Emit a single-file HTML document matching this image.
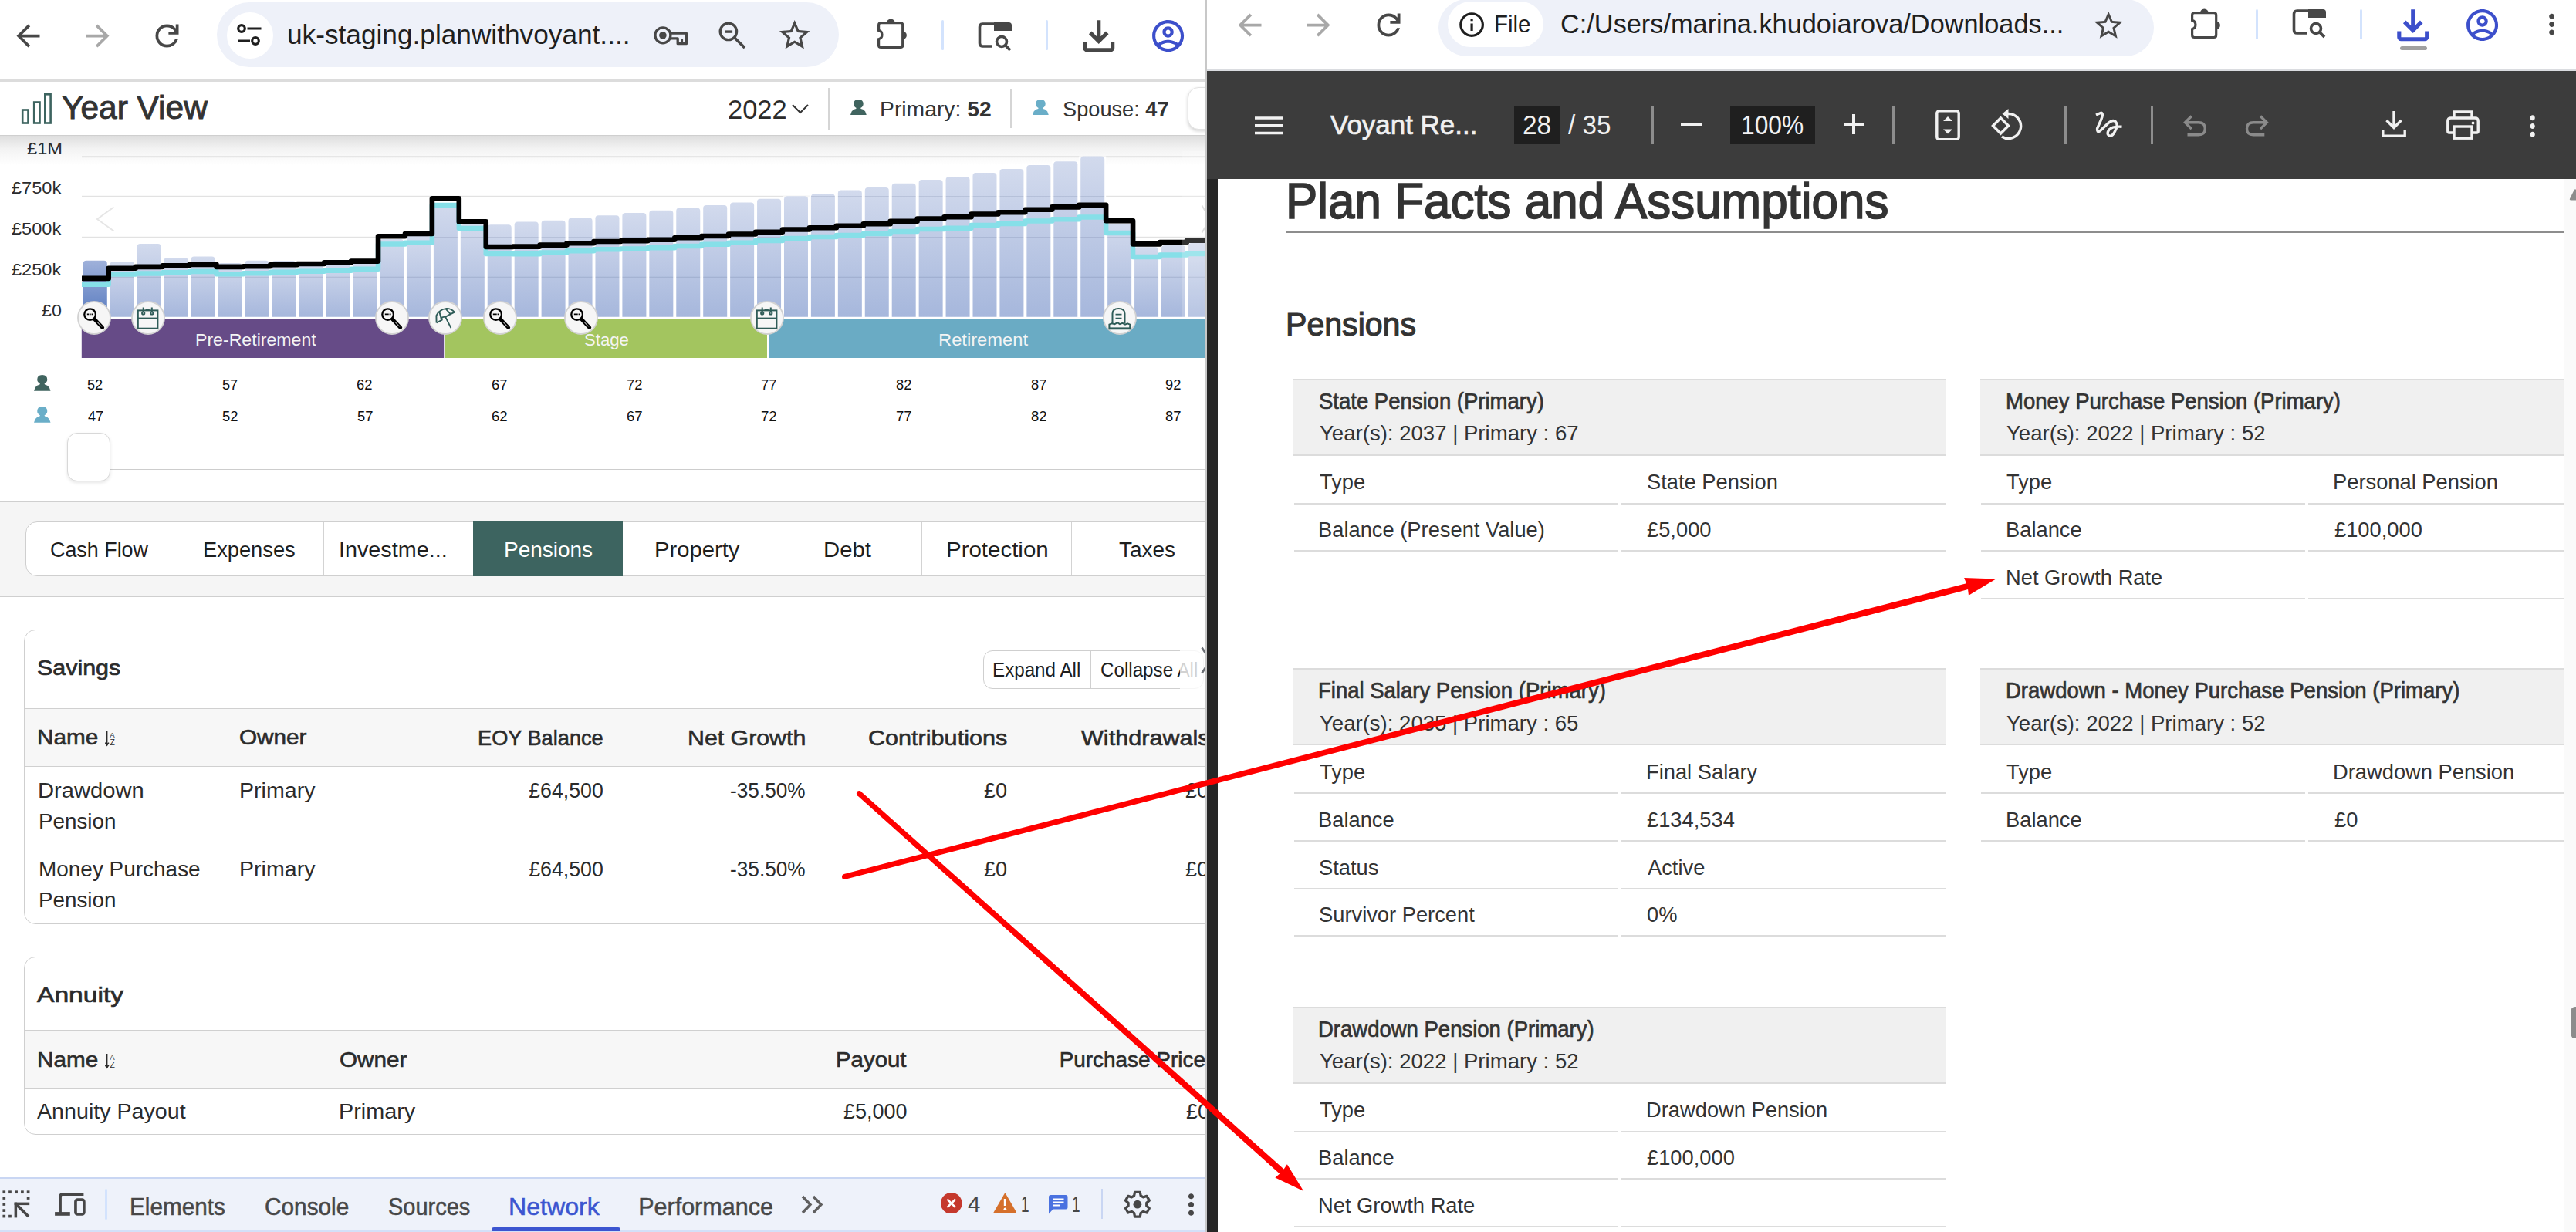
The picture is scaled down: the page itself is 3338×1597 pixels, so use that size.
<!DOCTYPE html><html><head><meta charset="utf-8"><title>Year View</title><style>
*{box-sizing:border-box;margin:0;padding:0}
html,body{width:3338px;height:1597px;overflow:hidden;background:#fff}
body{position:relative;font-family:"Liberation Sans",sans-serif}
.a{position:absolute;display:block}
.t{position:absolute;white-space:nowrap;line-height:1;}
.t{font-size:inherit}
#lw,#rw{position:absolute;top:0;height:1597px;overflow:hidden}
#lw{left:0;width:1561px;background:#fff}
#rw{left:1564px;width:1774px;background:#fff}
</style></head><body><div id="lw"><div class="a" style="left:0.0px;top:103.0px;width:1561.0px;height:2.5px;background:#dcdcdc;"></div>
<div class="a" style="left:281.0px;top:3.0px;width:806.0px;height:84.0px;background:#eef1f9;border-radius:42px;"></div>
<div class="a" style="left:293.5px;top:15.5px;width:60.0px;height:60.0px;background:#fff;border-radius:30px;"></div>
<div class="t" style="left:371.7px;top:27.8px;font-size:34.50px;color:#1f1f1f;transform:scaleX(1.0211);transform-origin:0 50%;">uk-staging.planwithvoyant....</div>
<svg class="a" style="left:13.5px;top:23.5px;" width="45.0" height="45.0" viewBox="0 0 24 24" preserveAspectRatio="none"><path d="M7.825 13 13.425 18.6 12 20 4 12 12 4 13.425 5.4 7.825 11H20v2Z" fill="#474747"/></svg>
<svg class="a" style="left:103.5px;top:23.5px;" width="45.0" height="45.0" viewBox="0 0 24 24" preserveAspectRatio="none"><path d="M16.175 13H4v-2h12.175l-5.6-5.6L12 4l8 8-8 8-1.425-1.4Z" fill="#a8a8a8"/></svg>
<svg class="a" style="left:193.5px;top:23.5px;" width="45.0" height="45.0" viewBox="0 0 24 24" preserveAspectRatio="none"><path d="M12 20q-3.35 0-5.675-2.325Q4 15.35 4 12q0-3.35 2.325-5.675Q8.65 4 12 4q1.725 0 3.3.712 1.575.713 2.7 2.038V4h2v7h-7V9h4.2q-.8-1.4-2.187-2.2Q13.625 6 12 6 9.5 6 7.75 7.75T6 12q0 2.5 1.75 4.25T12 18q1.925 0 3.475-1.1T17.65 14h2.1q-.7 2.65-2.85 4.325Q14.75 20 12 20Z" fill="#474747"/></svg>
<svg class="a" style="left:300.0px;top:22.0px;" width="48.0" height="48.0" viewBox="0 0 48 48" preserveAspectRatio="none"><g fill="none" stroke="#1f1f1f" stroke-width="3.2"><circle cx="13" cy="15" r="4.3"/><circle cx="31" cy="31" r="4.3"/><path d="M20.5 15H38.5M8.5 31H24"/></g></svg>
<svg class="a" style="left:840px;top:20px" width="140" height="50" viewBox="840 20 140 50"><g fill="none" stroke="#474747" stroke-width="3.3" stroke-linejoin="round"><circle cx="858.9" cy="45.8" r="10"/><path d="M868.3 43.2H889.4V56.7H878.2V49.8H868.3"/><path d="M884 56.7V50.6" stroke-width="2.2"/><circle cx="943.9" cy="40.9" r="10.7"/><path d="M939 41.1H949.1" stroke-width="3.4"/><path d="M951.4 48.4L965 62" stroke-width="3.6"/></g><circle cx="858.9" cy="45.8" r="4.8" fill="#474747"/></svg>
<svg class="a" style="left:1005.5px;top:21.5px;" width="47.4" height="47.4" viewBox="0 0 24 24" preserveAspectRatio="none"><path d="M22 9.24l-7.19-.62L12 2 9.19 8.63 2 9.24l5.46 4.73L5.82 21 12 17.27 18.18 21l-1.63-7.03L22 9.24zM12 15.4l-3.76 2.27 1-4.28-3.32-2.88 4.38-.38L12 6.1l1.71 4.04 4.38.38-3.32 2.88 1 4.28L12 15.4z" fill="#474747"/></svg>
<div class="a" style="left:1220.0px;top:26.0px;width:2.5px;height:39.0px;background:#d3e3fd;border-radius:2px;"></div>
<svg class="a" style="left:1264.0px;top:26.0px;" width="50.0" height="44.0" viewBox="0 0 50 44" preserveAspectRatio="none"><path d="M24 5H9.5Q5.5 5 5.5 9V30Q5.5 34 9.5 34H22" fill="none" stroke="#474747" stroke-width="3.6"/><path d="M24 3h19a4 4 0 0 1 4 4v7H24z" fill="#474747"/><circle cx="34" cy="28" r="6.5" fill="none" stroke="#474747" stroke-width="3.6"/><path d="M38.5 32.5L45 39" stroke="#474747" stroke-width="3.8"/></svg>
<div class="a" style="left:1355.0px;top:26.0px;width:2.5px;height:39.0px;background:#d3e3fd;border-radius:2px;"></div>
<svg class="a" style="left:1392.8px;top:15.8px;" width="61.5" height="61.5" viewBox="0 0 24 24" preserveAspectRatio="none"><path d="M12 16 7 11 8.4 9.55 11 12.15V4H13V12.15L15.6 9.55L17 11ZM6 20Q5.175 20 4.588 19.413Q4 18.825 4 18V15H6V18H18V15H20V18Q20 18.825 19.413 19.413Q18.825 20 18 20Z" fill="#474747"/></svg>
<svg class="a" style="left:1489.0px;top:21.9px;" width="49.2" height="49.2" viewBox="0 0 24 24" preserveAspectRatio="none"><path d="M12 2C6.48 2 2 6.48 2 12s4.48 10 10 10 10-4.48 10-10S17.52 2 12 2zM7.07 18.28c.43-.9 3.05-1.78 4.93-1.78s4.51.88 4.930 1.78C15.57 19.36 13.86 20 12 20s-3.57-.64-4.93-1.72zm11.29-1.450c-1.43-1.74-4.9-2.33-6.36-2.33s-4.93.59-6.36 2.33C4.62 15.49 4 13.82 4 12c0-4.41 3.59-8 8-8s8 3.59 8 8c0 1.82-.62 3.49-1.64 4.83zM12 6c-1.94 0-3.5 1.56-3.5 3.5S10.06 13 12 13s3.5-1.56 3.5-3.5S13.94 6 12 6zm0 5c-.83 0-1.5-.67-1.5-1.5S11.17 8 12 8s1.5.67 1.5 1.5S12.83 11 12 11z" fill="#3c4fcb"/></svg>
<div class="a" style="left:0.0px;top:175.0px;width:1561.0px;height:1.2px;background:#cfcfcf;"></div>
<div class="a" style="left:0.0px;top:176.2px;width:1561.0px;height:38.0px;background:linear-gradient(#dedede,#f3f3f3 45%,#fff);"></div>
<svg class="a" style="left:26.0px;top:119.0px;" width="43.0" height="44.0" viewBox="26 119 43 44" preserveAspectRatio="none"><g fill="none" stroke="#3d6460" stroke-width="2.6"><rect x="29.2" y="142.5" width="7.3" height="17"/><rect x="44.2" y="132.5" width="7.3" height="27"/><rect x="58.3" y="122.3" width="7.3" height="37.2"/></g></svg>
<div class="t" style="left:80.2px;top:119.4px;font-size:42.01px;color:#333;-webkit-text-stroke:1.00px #333;transform:scaleX(1.0106);transform-origin:0 50%;">Year View</div>
<div class="t" style="left:943.0px;top:124.5px;font-size:34.88px;color:#2b2b2b;transform:scaleX(0.9892);transform-origin:0 50%;">2022</div>
<svg class="a" style="left:1025.0px;top:133.0px;" width="24.0" height="16.0" viewBox="0 0 24 16" preserveAspectRatio="none"><path d="M2 3L12 13L22 3" fill="none" stroke="#333" stroke-width="2"/></svg>
<div class="a" style="left:1073.0px;top:114.0px;width:1.5px;height:54.0px;background:#d5d5d5;"></div>
<div class="a" style="left:1309.0px;top:116.0px;width:1.5px;height:50.0px;background:#d5d5d5;"></div>
<svg class="a" style="left:1130.7px;top:18.4px" width="52" height="52" viewBox="-6 -10 52 52"><path d="M1.6 11.4V4.6Q1.6 1.6 4.6 1.6H29.7Q32.7 1.6 32.7 4.6V30.5Q32.7 33.5 29.7 33.5H4.6Q1.6 33.5 1.6 30.5V22.8A5.9 5.9 0 0 0 1.6 11.4Z" fill="none" stroke="#474747" stroke-width="3.2"/><path d="M11.9 1.8A5.4 5.4 0 0 1 22.7 1.8Z" fill="#474747"/><path d="M32.5 12.4A5.4 5.4 0 0 1 32.5 23.2Z" fill="#474747"/></svg>
<svg class="a" style="left:1102.1px;top:129.0px;" width="20.8" height="20.0" viewBox="0 0 20.8 20" preserveAspectRatio="none"><path d="M0 20L1.6 15.6Q3.8 12.4 7.2 12L7.7 11Q4.1 9.2 4.1 5.8Q4.1 0 10.4 0Q16.7 0 16.7 5.8Q16.7 9.2 13.1 11L13.6 12Q17 12.4 19.2 15.6L20.8 20Z" fill="#40645f"/></svg>
<div class="t" style="left:1139.7px;top:127.6px;font-size:27.62px;color:#333;transform:scaleX(1.0252);transform-origin:0 50%;">Primary: <b>52</b></div>
<svg class="a" style="left:1338.1px;top:129.0px;" width="20.8" height="20.0" viewBox="0 0 20.8 20" preserveAspectRatio="none"><path d="M0 20L1.6 15.6Q3.8 12.4 7.2 12L7.7 11Q4.1 9.2 4.1 5.8Q4.1 0 10.4 0Q16.7 0 16.7 5.8Q16.7 9.2 13.1 11L13.6 12Q17 12.4 19.2 15.6L20.8 20Z" fill="#6aaec8"/></svg>
<div class="t" style="left:1376.8px;top:127.6px;font-size:27.62px;color:#333;transform:scaleX(0.9848);transform-origin:0 50%;">Spouse: <b>47</b></div>
<div class="a" style="left:1538.5px;top:113.0px;width:60.0px;height:55.0px;background:#fff;border:1.5px solid #e2e2e2;border-radius:14px;box-shadow:0 2px 4px rgba(0,0,0,.18);"></div>
<svg class="a" style="left:0;top:0" width="1561" height="470" viewBox="0 0 1561 470"><defs><linearGradient id="gb" x1="0" y1="0" x2="0" y2="1"><stop offset="0" stop-color="#d2daed"/><stop offset="1" stop-color="#a6b7dc"/></linearGradient><linearGradient id="gs" x1="0" y1="0" x2="0" y2="1"><stop offset="0" stop-color="#9fb1da"/><stop offset="1" stop-color="#5a7cc0"/></linearGradient></defs><rect x="106" y="202.20" width="1460" height="2" fill="#e2e2e2"/><rect x="106" y="253.80" width="1460" height="2" fill="#e2e2e2"/><rect x="106" y="306.80" width="1460" height="2" fill="#e2e2e2"/><rect x="106" y="358.50" width="1460" height="2" fill="#e2e2e2"/><rect x="105.80" y="337.70" width="35" height="73.10" fill="#fff"/><rect x="140.73" y="339.00" width="35" height="71.80" fill="#fff"/><rect x="175.66" y="315.90" width="35" height="94.90" fill="#fff"/><rect x="210.59" y="334.00" width="35" height="76.80" fill="#fff"/><rect x="245.52" y="332.60" width="35" height="78.20" fill="#fff"/><rect x="280.45" y="341.00" width="35" height="69.80" fill="#fff"/><rect x="315.38" y="337.70" width="35" height="73.10" fill="#fff"/><rect x="350.31" y="338.00" width="35" height="72.80" fill="#fff"/><rect x="385.24" y="339.00" width="35" height="71.80" fill="#fff"/><rect x="420.17" y="338.00" width="35" height="72.80" fill="#fff"/><rect x="455.10" y="337.00" width="35" height="73.80" fill="#fff"/><rect x="490.03" y="310.00" width="35" height="100.80" fill="#fff"/><rect x="524.96" y="306.00" width="35" height="104.80" fill="#fff"/><rect x="559.89" y="263.00" width="35" height="147.80" fill="#fff"/><rect x="594.82" y="291.00" width="35" height="119.80" fill="#fff"/><rect x="629.75" y="291.30" width="35" height="119.50" fill="#fff"/><rect x="664.68" y="287.40" width="35" height="123.40" fill="#fff"/><rect x="699.61" y="285.80" width="35" height="125.00" fill="#fff"/><rect x="734.54" y="282.50" width="35" height="128.30" fill="#fff"/><rect x="769.47" y="279.20" width="35" height="131.60" fill="#fff"/><rect x="804.40" y="276.00" width="35" height="134.80" fill="#fff"/><rect x="839.33" y="272.80" width="35" height="138.00" fill="#fff"/><rect x="874.26" y="269.50" width="35" height="141.30" fill="#fff"/><rect x="909.19" y="266.00" width="35" height="144.80" fill="#fff"/><rect x="944.12" y="262.50" width="35" height="148.30" fill="#fff"/><rect x="979.05" y="257.80" width="35" height="153.00" fill="#fff"/><rect x="1013.98" y="254.30" width="35" height="156.50" fill="#fff"/><rect x="1048.91" y="251.40" width="35" height="159.40" fill="#fff"/><rect x="1083.84" y="246.50" width="35" height="164.30" fill="#fff"/><rect x="1118.77" y="243.00" width="35" height="167.80" fill="#fff"/><rect x="1153.70" y="237.70" width="35" height="173.10" fill="#fff"/><rect x="1188.63" y="232.90" width="35" height="177.90" fill="#fff"/><rect x="1223.56" y="229.30" width="35" height="181.50" fill="#fff"/><rect x="1258.49" y="224.00" width="35" height="186.80" fill="#fff"/><rect x="1293.42" y="219.00" width="35" height="191.80" fill="#fff"/><rect x="1328.35" y="213.90" width="35" height="196.90" fill="#fff"/><rect x="1363.28" y="209.30" width="35" height="201.50" fill="#fff"/><rect x="1398.21" y="202.50" width="35" height="208.30" fill="#fff"/><rect x="1433.14" y="289.70" width="35" height="121.10" fill="#fff"/><rect x="1468.07" y="320.30" width="35" height="90.50" fill="#fff"/><rect x="1503.00" y="318.00" width="35" height="92.80" fill="#fff"/><rect x="1537.93" y="315.00" width="35" height="95.80" fill="#fff"/><path d="M107.80 410.8V341.70q0-4 4-4h23q4 0 4 4V410.8Z" fill="url(#gs)"/><rect x="107.80" y="358.70" width="31" height="1.6" fill="rgba(40,55,100,.12)"/><path d="M142.73 410.8V343.00q0-4 4-4h23q4 0 4 4V410.8Z" fill="url(#gb)"/><rect x="142.73" y="358.70" width="31" height="1.6" fill="rgba(40,55,100,.12)"/><path d="M177.66 410.8V319.90q0-4 4-4h23q4 0 4 4V410.8Z" fill="url(#gb)"/><rect x="177.66" y="358.70" width="31" height="1.6" fill="rgba(40,55,100,.12)"/><path d="M212.59 410.8V338.00q0-4 4-4h23q4 0 4 4V410.8Z" fill="url(#gb)"/><rect x="212.59" y="358.70" width="31" height="1.6" fill="rgba(40,55,100,.12)"/><path d="M247.52 410.8V336.60q0-4 4-4h23q4 0 4 4V410.8Z" fill="url(#gb)"/><rect x="247.52" y="358.70" width="31" height="1.6" fill="rgba(40,55,100,.12)"/><path d="M282.45 410.8V345.00q0-4 4-4h23q4 0 4 4V410.8Z" fill="url(#gb)"/><rect x="282.45" y="358.70" width="31" height="1.6" fill="rgba(40,55,100,.12)"/><path d="M317.38 410.8V341.70q0-4 4-4h23q4 0 4 4V410.8Z" fill="url(#gb)"/><rect x="317.38" y="358.70" width="31" height="1.6" fill="rgba(40,55,100,.12)"/><path d="M352.31 410.8V342.00q0-4 4-4h23q4 0 4 4V410.8Z" fill="url(#gb)"/><rect x="352.31" y="358.70" width="31" height="1.6" fill="rgba(40,55,100,.12)"/><path d="M387.24 410.8V343.00q0-4 4-4h23q4 0 4 4V410.8Z" fill="url(#gb)"/><rect x="387.24" y="358.70" width="31" height="1.6" fill="rgba(40,55,100,.12)"/><path d="M422.17 410.8V342.00q0-4 4-4h23q4 0 4 4V410.8Z" fill="url(#gb)"/><rect x="422.17" y="358.70" width="31" height="1.6" fill="rgba(40,55,100,.12)"/><path d="M457.10 410.8V341.00q0-4 4-4h23q4 0 4 4V410.8Z" fill="url(#gb)"/><rect x="457.10" y="358.70" width="31" height="1.6" fill="rgba(40,55,100,.12)"/><path d="M492.03 410.8V314.00q0-4 4-4h23q4 0 4 4V410.8Z" fill="url(#gb)"/><rect x="492.03" y="358.70" width="31" height="1.6" fill="rgba(40,55,100,.12)"/><path d="M526.96 410.8V310.00q0-4 4-4h23q4 0 4 4V410.8Z" fill="url(#gb)"/><rect x="526.96" y="358.70" width="31" height="1.6" fill="rgba(40,55,100,.12)"/><path d="M561.89 410.8V267.00q0-4 4-4h23q4 0 4 4V410.8Z" fill="url(#gb)"/><rect x="561.89" y="307.00" width="31" height="1.6" fill="rgba(40,55,100,.12)"/><rect x="561.89" y="358.70" width="31" height="1.6" fill="rgba(40,55,100,.12)"/><path d="M596.82 410.8V295.00q0-4 4-4h23q4 0 4 4V410.8Z" fill="url(#gb)"/><rect x="596.82" y="307.00" width="31" height="1.6" fill="rgba(40,55,100,.12)"/><rect x="596.82" y="358.70" width="31" height="1.6" fill="rgba(40,55,100,.12)"/><path d="M631.75 410.8V295.30q0-4 4-4h23q4 0 4 4V410.8Z" fill="url(#gb)"/><rect x="631.75" y="307.00" width="31" height="1.6" fill="rgba(40,55,100,.12)"/><rect x="631.75" y="358.70" width="31" height="1.6" fill="rgba(40,55,100,.12)"/><path d="M666.68 410.8V291.40q0-4 4-4h23q4 0 4 4V410.8Z" fill="url(#gb)"/><rect x="666.68" y="307.00" width="31" height="1.6" fill="rgba(40,55,100,.12)"/><rect x="666.68" y="358.70" width="31" height="1.6" fill="rgba(40,55,100,.12)"/><path d="M701.61 410.8V289.80q0-4 4-4h23q4 0 4 4V410.8Z" fill="url(#gb)"/><rect x="701.61" y="307.00" width="31" height="1.6" fill="rgba(40,55,100,.12)"/><rect x="701.61" y="358.70" width="31" height="1.6" fill="rgba(40,55,100,.12)"/><path d="M736.54 410.8V286.50q0-4 4-4h23q4 0 4 4V410.8Z" fill="url(#gb)"/><rect x="736.54" y="307.00" width="31" height="1.6" fill="rgba(40,55,100,.12)"/><rect x="736.54" y="358.70" width="31" height="1.6" fill="rgba(40,55,100,.12)"/><path d="M771.47 410.8V283.20q0-4 4-4h23q4 0 4 4V410.8Z" fill="url(#gb)"/><rect x="771.47" y="307.00" width="31" height="1.6" fill="rgba(40,55,100,.12)"/><rect x="771.47" y="358.70" width="31" height="1.6" fill="rgba(40,55,100,.12)"/><path d="M806.40 410.8V280.00q0-4 4-4h23q4 0 4 4V410.8Z" fill="url(#gb)"/><rect x="806.40" y="307.00" width="31" height="1.6" fill="rgba(40,55,100,.12)"/><rect x="806.40" y="358.70" width="31" height="1.6" fill="rgba(40,55,100,.12)"/><path d="M841.33 410.8V276.80q0-4 4-4h23q4 0 4 4V410.8Z" fill="url(#gb)"/><rect x="841.33" y="307.00" width="31" height="1.6" fill="rgba(40,55,100,.12)"/><rect x="841.33" y="358.70" width="31" height="1.6" fill="rgba(40,55,100,.12)"/><path d="M876.26 410.8V273.50q0-4 4-4h23q4 0 4 4V410.8Z" fill="url(#gb)"/><rect x="876.26" y="307.00" width="31" height="1.6" fill="rgba(40,55,100,.12)"/><rect x="876.26" y="358.70" width="31" height="1.6" fill="rgba(40,55,100,.12)"/><path d="M911.19 410.8V270.00q0-4 4-4h23q4 0 4 4V410.8Z" fill="url(#gb)"/><rect x="911.19" y="307.00" width="31" height="1.6" fill="rgba(40,55,100,.12)"/><rect x="911.19" y="358.70" width="31" height="1.6" fill="rgba(40,55,100,.12)"/><path d="M946.12 410.8V266.50q0-4 4-4h23q4 0 4 4V410.8Z" fill="url(#gb)"/><rect x="946.12" y="307.00" width="31" height="1.6" fill="rgba(40,55,100,.12)"/><rect x="946.12" y="358.70" width="31" height="1.6" fill="rgba(40,55,100,.12)"/><path d="M981.05 410.8V261.80q0-4 4-4h23q4 0 4 4V410.8Z" fill="url(#gb)"/><rect x="981.05" y="307.00" width="31" height="1.6" fill="rgba(40,55,100,.12)"/><rect x="981.05" y="358.70" width="31" height="1.6" fill="rgba(40,55,100,.12)"/><path d="M1015.98 410.8V258.30q0-4 4-4h23q4 0 4 4V410.8Z" fill="url(#gb)"/><rect x="1015.98" y="307.00" width="31" height="1.6" fill="rgba(40,55,100,.12)"/><rect x="1015.98" y="358.70" width="31" height="1.6" fill="rgba(40,55,100,.12)"/><path d="M1050.91 410.8V255.40q0-4 4-4h23q4 0 4 4V410.8Z" fill="url(#gb)"/><rect x="1050.91" y="254.00" width="31" height="1.6" fill="rgba(40,55,100,.12)"/><rect x="1050.91" y="307.00" width="31" height="1.6" fill="rgba(40,55,100,.12)"/><rect x="1050.91" y="358.70" width="31" height="1.6" fill="rgba(40,55,100,.12)"/><path d="M1085.84 410.8V250.50q0-4 4-4h23q4 0 4 4V410.8Z" fill="url(#gb)"/><rect x="1085.84" y="254.00" width="31" height="1.6" fill="rgba(40,55,100,.12)"/><rect x="1085.84" y="307.00" width="31" height="1.6" fill="rgba(40,55,100,.12)"/><rect x="1085.84" y="358.70" width="31" height="1.6" fill="rgba(40,55,100,.12)"/><path d="M1120.77 410.8V247.00q0-4 4-4h23q4 0 4 4V410.8Z" fill="url(#gb)"/><rect x="1120.77" y="254.00" width="31" height="1.6" fill="rgba(40,55,100,.12)"/><rect x="1120.77" y="307.00" width="31" height="1.6" fill="rgba(40,55,100,.12)"/><rect x="1120.77" y="358.70" width="31" height="1.6" fill="rgba(40,55,100,.12)"/><path d="M1155.70 410.8V241.70q0-4 4-4h23q4 0 4 4V410.8Z" fill="url(#gb)"/><rect x="1155.70" y="254.00" width="31" height="1.6" fill="rgba(40,55,100,.12)"/><rect x="1155.70" y="307.00" width="31" height="1.6" fill="rgba(40,55,100,.12)"/><rect x="1155.70" y="358.70" width="31" height="1.6" fill="rgba(40,55,100,.12)"/><path d="M1190.63 410.8V236.90q0-4 4-4h23q4 0 4 4V410.8Z" fill="url(#gb)"/><rect x="1190.63" y="254.00" width="31" height="1.6" fill="rgba(40,55,100,.12)"/><rect x="1190.63" y="307.00" width="31" height="1.6" fill="rgba(40,55,100,.12)"/><rect x="1190.63" y="358.70" width="31" height="1.6" fill="rgba(40,55,100,.12)"/><path d="M1225.56 410.8V233.30q0-4 4-4h23q4 0 4 4V410.8Z" fill="url(#gb)"/><rect x="1225.56" y="254.00" width="31" height="1.6" fill="rgba(40,55,100,.12)"/><rect x="1225.56" y="307.00" width="31" height="1.6" fill="rgba(40,55,100,.12)"/><rect x="1225.56" y="358.70" width="31" height="1.6" fill="rgba(40,55,100,.12)"/><path d="M1260.49 410.8V228.00q0-4 4-4h23q4 0 4 4V410.8Z" fill="url(#gb)"/><rect x="1260.49" y="254.00" width="31" height="1.6" fill="rgba(40,55,100,.12)"/><rect x="1260.49" y="307.00" width="31" height="1.6" fill="rgba(40,55,100,.12)"/><rect x="1260.49" y="358.70" width="31" height="1.6" fill="rgba(40,55,100,.12)"/><path d="M1295.42 410.8V223.00q0-4 4-4h23q4 0 4 4V410.8Z" fill="url(#gb)"/><rect x="1295.42" y="254.00" width="31" height="1.6" fill="rgba(40,55,100,.12)"/><rect x="1295.42" y="307.00" width="31" height="1.6" fill="rgba(40,55,100,.12)"/><rect x="1295.42" y="358.70" width="31" height="1.6" fill="rgba(40,55,100,.12)"/><path d="M1330.35 410.8V217.90q0-4 4-4h23q4 0 4 4V410.8Z" fill="url(#gb)"/><rect x="1330.35" y="254.00" width="31" height="1.6" fill="rgba(40,55,100,.12)"/><rect x="1330.35" y="307.00" width="31" height="1.6" fill="rgba(40,55,100,.12)"/><rect x="1330.35" y="358.70" width="31" height="1.6" fill="rgba(40,55,100,.12)"/><path d="M1365.28 410.8V213.30q0-4 4-4h23q4 0 4 4V410.8Z" fill="url(#gb)"/><rect x="1365.28" y="254.00" width="31" height="1.6" fill="rgba(40,55,100,.12)"/><rect x="1365.28" y="307.00" width="31" height="1.6" fill="rgba(40,55,100,.12)"/><rect x="1365.28" y="358.70" width="31" height="1.6" fill="rgba(40,55,100,.12)"/><path d="M1400.21 410.8V206.50q0-4 4-4h23q4 0 4 4V410.8Z" fill="url(#gb)"/><rect x="1400.21" y="254.00" width="31" height="1.6" fill="rgba(40,55,100,.12)"/><rect x="1400.21" y="307.00" width="31" height="1.6" fill="rgba(40,55,100,.12)"/><rect x="1400.21" y="358.70" width="31" height="1.6" fill="rgba(40,55,100,.12)"/><path d="M1435.14 410.8V293.70q0-4 4-4h23q4 0 4 4V410.8Z" fill="url(#gb)"/><rect x="1435.14" y="307.00" width="31" height="1.6" fill="rgba(40,55,100,.12)"/><rect x="1435.14" y="358.70" width="31" height="1.6" fill="rgba(40,55,100,.12)"/><path d="M1470.07 410.8V324.30q0-4 4-4h23q4 0 4 4V410.8Z" fill="url(#gb)"/><rect x="1470.07" y="358.70" width="31" height="1.6" fill="rgba(40,55,100,.12)"/><path d="M1505.00 410.8V322.00q0-4 4-4h23q4 0 4 4V410.8Z" fill="url(#gb)"/><rect x="1505.00" y="358.70" width="31" height="1.6" fill="rgba(40,55,100,.12)"/><path d="M1539.93 410.8V319.00q0-4 4-4h23q4 0 4 4V410.8Z" fill="url(#gb)"/><rect x="1539.93" y="358.70" width="31" height="1.6" fill="rgba(40,55,100,.12)"/><path d="M106.00 368.80 L140.73 368.80 L140.73 355.60 L175.66 355.60 L175.66 354.60 L210.59 354.60 L210.59 353.30 L245.52 353.30 L245.52 352.00 L280.45 352.00 L280.45 355.20 L315.38 355.20 L315.38 354.20 L350.31 354.20 L350.31 352.70 L385.24 352.70 L385.24 351.70 L420.17 351.70 L420.17 350.70 L455.10 350.70 L455.10 348.80 L490.03 348.80 L490.03 316.60 L524.96 316.60 L524.96 314.70 L559.89 314.70 L559.89 266.00 L594.82 266.00 L594.82 296.00 L629.75 296.00 L629.75 329.00 L664.68 329.00 L664.68 329.30 L699.61 329.30 L699.61 327.50 L734.54 327.50 L734.54 325.30 L769.47 325.30 L769.47 323.20 L804.40 323.20 L804.40 322.50 L839.33 322.50 L839.33 321.30 L874.26 321.30 L874.26 319.00 L909.19 319.00 L909.19 316.80 L944.12 316.80 L944.12 314.70 L979.05 314.70 L979.05 312.00 L1013.98 312.00 L1013.98 309.00 L1048.91 309.00 L1048.91 307.00 L1083.84 307.00 L1083.84 305.00 L1118.77 305.00 L1118.77 303.00 L1153.70 303.00 L1153.70 300.00 L1188.63 300.00 L1188.63 297.00 L1223.56 297.00 L1223.56 295.70 L1258.49 295.70 L1258.49 292.00 L1293.42 292.00 L1293.42 290.00 L1328.35 290.00 L1328.35 286.60 L1363.28 286.60 L1363.28 284.30 L1398.21 284.30 L1398.21 281.40 L1433.14 281.40 L1433.14 302.00 L1468.07 302.00 L1468.07 333.00 L1503.00 333.00 L1503.00 330.60 L1537.93 330.60 L1537.93 329.00 L1570.00 329.00" fill="none" stroke="#86dfe8" stroke-width="6.5" stroke-linejoin="round"/><path d="M106.00 360.90 L140.73 360.90 L140.73 347.80 L175.66 347.80 L175.66 345.90 L210.59 345.90 L210.59 344.30 L245.52 344.30 L245.52 342.90 L280.45 342.90 L280.45 345.90 L315.38 345.90 L315.38 345.30 L350.31 345.30 L350.31 343.30 L385.24 343.30 L385.24 342.00 L420.17 342.00 L420.17 340.40 L455.10 340.40 L455.10 338.60 L490.03 338.60 L490.03 306.30 L524.96 306.30 L524.96 303.00 L559.89 303.00 L559.89 257.20 L594.82 257.20 L594.82 287.40 L629.75 287.40 L629.75 320.00 L664.68 320.00 L664.68 319.60 L699.61 319.60 L699.61 317.60 L734.54 317.60 L734.54 315.30 L769.47 315.30 L769.47 313.00 L804.40 313.00 L804.40 312.30 L839.33 312.30 L839.33 310.80 L874.26 310.80 L874.26 308.30 L909.19 308.30 L909.19 306.00 L944.12 306.00 L944.12 303.50 L979.05 303.50 L979.05 300.70 L1013.98 300.70 L1013.98 297.50 L1048.91 297.50 L1048.91 295.20 L1083.84 295.20 L1083.84 292.70 L1118.77 292.70 L1118.77 290.30 L1153.70 290.30 L1153.70 286.80 L1188.63 286.80 L1188.63 283.50 L1223.56 283.50 L1223.56 281.30 L1258.49 281.30 L1258.49 277.50 L1293.42 277.50 L1293.42 275.20 L1328.35 275.20 L1328.35 271.80 L1363.28 271.80 L1363.28 268.40 L1398.21 268.40 L1398.21 265.80 L1433.14 265.80 L1433.14 286.30 L1468.07 286.30 L1468.07 316.40 L1503.00 316.40 L1503.00 314.00 L1537.93 314.00 L1537.93 311.60 L1570.00 311.60" fill="none" stroke="#000" stroke-width="6.6" stroke-linejoin="round"/><path d="M147.5 268.5L126 284L147.5 299.5" fill="none" stroke="#e6e6e6" stroke-width="2"/><rect x="105.8" y="413.8" width="469.4" height="50.2" fill="#664b87"/><rect x="577" y="413.8" width="417" height="50.2" fill="#a3c55f"/><rect x="996" y="413.8" width="570" height="50.2" fill="#6aabc4"/></svg>
<div class="a" style="left:1531.0px;top:196.0px;width:30.0px;height:215.0px;background:rgba(255,255,255,.2);"></div>
<svg class="a" style="left:1550.0px;top:262.0px;" width="20.0" height="44.0" viewBox="0 0 20 44" preserveAspectRatio="none"><path d="M7.5 4.5L18 22L7.5 39.5" fill="none" stroke="#dedede" stroke-width="2"/></svg>
<div class="t" style="left:35.3px;top:180.8px;font-size:22.67px;color:#2b2b2b;transform:scaleX(1.0431);transform-origin:0 50%;">£1M</div>
<div class="t" style="left:15.0px;top:232.4px;font-size:22.67px;color:#2b2b2b;transform:scaleX(1.0413);transform-origin:0 50%;">£750k</div>
<div class="t" style="left:15.0px;top:285.2px;font-size:22.67px;color:#2b2b2b;transform:scaleX(1.0413);transform-origin:0 50%;">£500k</div>
<div class="t" style="left:15.0px;top:337.8px;font-size:22.67px;color:#2b2b2b;transform:scaleX(1.0413);transform-origin:0 50%;">£250k</div>
<div class="t" style="left:54.4px;top:390.6px;font-size:22.67px;color:#2b2b2b;transform:scaleX(1.0256);transform-origin:0 50%;">£0</div>
<div class="t" style="left:253.1px;top:428.8px;font-size:22.67px;color:#f4f4f4;transform:scaleX(1.0204);transform-origin:0 50%;">Pre-Retirement</div>
<div class="t" style="left:757.0px;top:428.8px;font-size:22.67px;color:#f4f4f4;transform:scaleX(0.9787);transform-origin:0 50%;">Stage</div>
<div class="t" style="left:1216.1px;top:428.8px;font-size:22.67px;color:#f4f4f4;transform:scaleX(1.0471);transform-origin:0 50%;">Retirement</div>
<svg class="a" style="left:98.4px;top:388.3px" width="48" height="48" viewBox="-24 -24 48 48"><circle cx="0" cy="0" r="21" fill="#f6f6f6" stroke="#d2d2d2" stroke-width="1.8"/><circle cx="-5.4" cy="-4.4" r="7.3" fill="none" stroke="#000" stroke-width="2.3"/><path d="M-9.2-4.6h2.2M-6.3-4.6h2M-3.4-4.6h2" stroke="#000" stroke-width="1.9"/><path d="M0.6 1.8L10.8 12.6" stroke="#000" stroke-width="4.6" stroke-linecap="round"/><path d="M3.8 5.2L9.6 11.3" stroke="#fff" stroke-width="1"/></svg>
<svg class="a" style="left:168.2px;top:388.3px" width="48" height="48" viewBox="-24 -24 48 48"><circle cx="0" cy="0" r="21" fill="#f6f6f6" stroke="#d2d2d2" stroke-width="1.8"/><g fill="none" stroke="#2f5c58" stroke-width="2"><rect x="-13.2" y="-9.6" width="25.6" height="23.3"/><path d="M-13.2 0.6H12.4"/><circle cx="-6.3" cy="-6.1" r="1.6"/><circle cx="4.8" cy="-6.1" r="1.6"/><path d="M-6.3-8V-13.5M4.8-8V-13.5M-3.4-10.8H1.8"/></g></svg>
<svg class="a" style="left:483.6px;top:388.3px" width="48" height="48" viewBox="-24 -24 48 48"><circle cx="0" cy="0" r="21" fill="#f6f6f6" stroke="#d2d2d2" stroke-width="1.8"/><circle cx="-5.4" cy="-4.4" r="7.3" fill="none" stroke="#000" stroke-width="2.3"/><path d="M-9.2-4.6h2.2M-6.3-4.6h2M-3.4-4.6h2" stroke="#000" stroke-width="1.9"/><path d="M0.6 1.8L10.8 12.6" stroke="#000" stroke-width="4.6" stroke-linecap="round"/><path d="M3.8 5.2L9.6 11.3" stroke="#fff" stroke-width="1"/></svg>
<svg class="a" style="left:553.4px;top:388.3px" width="48" height="48" viewBox="-24 -24 48 48"><circle cx="0" cy="0" r="21" fill="#f6f6f6" stroke="#d2d2d2" stroke-width="1.8"/><g fill="none" stroke="#2f5c58" stroke-width="1.9" stroke-linejoin="round"><path d="M-11.4 6.5L-11.6-2.8Q-8.5-10.5 1.6-12.1Q7.2-12.3 12-7.4L5.5-4.2L1-1.6L-4.5-0.6L-4.2 2.6L-11.4 6.5"/><path d="M-7.8-8.6L-5.2 1.5M0.6-11.6L6.8-4.8M-0.4-2.4L7.4 13.2"/></g></svg>
<svg class="a" style="left:624.0px;top:388.3px" width="48" height="48" viewBox="-24 -24 48 48"><circle cx="0" cy="0" r="21" fill="#f6f6f6" stroke="#d2d2d2" stroke-width="1.8"/><circle cx="-5.4" cy="-4.4" r="7.3" fill="none" stroke="#000" stroke-width="2.3"/><path d="M-9.2-4.6h2.2M-6.3-4.6h2M-3.4-4.6h2" stroke="#000" stroke-width="1.9"/><path d="M0.6 1.8L10.8 12.6" stroke="#000" stroke-width="4.6" stroke-linecap="round"/><path d="M3.8 5.2L9.6 11.3" stroke="#fff" stroke-width="1"/></svg>
<svg class="a" style="left:728.5px;top:388.3px" width="48" height="48" viewBox="-24 -24 48 48"><circle cx="0" cy="0" r="21" fill="#f6f6f6" stroke="#d2d2d2" stroke-width="1.8"/><circle cx="-5.4" cy="-4.4" r="7.3" fill="none" stroke="#000" stroke-width="2.3"/><path d="M-9.2-4.6h2.2M-6.3-4.6h2M-3.4-4.6h2" stroke="#000" stroke-width="1.9"/><path d="M0.6 1.8L10.8 12.6" stroke="#000" stroke-width="4.6" stroke-linecap="round"/><path d="M3.8 5.2L9.6 11.3" stroke="#fff" stroke-width="1"/></svg>
<svg class="a" style="left:970.4px;top:388.3px" width="48" height="48" viewBox="-24 -24 48 48"><circle cx="0" cy="0" r="21" fill="#f6f6f6" stroke="#d2d2d2" stroke-width="1.8"/><g fill="none" stroke="#2f5c58" stroke-width="2"><rect x="-13.2" y="-9.6" width="25.6" height="23.3"/><path d="M-13.2 0.6H12.4"/><circle cx="-6.3" cy="-6.1" r="1.6"/><circle cx="4.8" cy="-6.1" r="1.6"/><path d="M-6.3-8V-13.5M4.8-8V-13.5M-3.4-10.8H1.8"/></g></svg>
<svg class="a" style="left:1427.0px;top:388.3px" width="48" height="48" viewBox="-24 -24 48 48"><circle cx="0" cy="0" r="21" fill="#f6f6f6" stroke="#d2d2d2" stroke-width="1.8"/><g fill="none" stroke="#2f5c58" stroke-width="2"><path d="M-9.5 7.3V-5.5Q-9.5-12 -1.5-12Q6.5-12 6.5-5.5V7.3"/><path d="M-5.5-4.4H2.5M-5.5 0.6H2.5" stroke-width="1.8"/><path d="M-13.6 14.2H13.2V8.6L10 7.4L7 8.6L3.5 6.8L0 8.2L-3 6.2L-6.5 8.2L-10.5 7.2L-13.6 8.6Z"/></g><rect x="-13.6" y="12.4" width="26.8" height="2.6" fill="#2f5c58"/></svg>
<svg class="a" style="left:44.1px;top:486.0px;" width="21.5" height="20.8" viewBox="0 0 20.8 20" preserveAspectRatio="none"><path d="M0 20L1.6 15.6Q3.8 12.4 7.2 12L7.7 11Q4.1 9.2 4.1 5.8Q4.1 0 10.4 0Q16.7 0 16.7 5.8Q16.7 9.2 13.1 11L13.6 12Q17 12.4 19.2 15.6L20.8 20Z" fill="#40645f"/></svg>
<svg class="a" style="left:44.1px;top:526.8px;" width="21.5" height="20.8" viewBox="0 0 20.8 20" preserveAspectRatio="none"><path d="M0 20L1.6 15.6Q3.8 12.4 7.2 12L7.7 11Q4.1 9.2 4.1 5.8Q4.1 0 10.4 0Q16.7 0 16.7 5.8Q16.7 9.2 13.1 11L13.6 12Q17 12.4 19.2 15.6L20.8 20Z" fill="#6aaec8"/></svg>
<div class="t" style="left:113.3px;top:490.2px;font-size:18.90px;color:#111;transform:scaleX(0.9632);transform-origin:0 50%;">52</div>
<div class="t" style="left:113.5px;top:530.9px;font-size:18.90px;color:#111;transform:scaleX(0.9575);transform-origin:0 50%;">47</div>
<div class="t" style="left:287.9px;top:490.2px;font-size:18.90px;color:#111;transform:scaleX(0.9632);transform-origin:0 50%;">57</div>
<div class="t" style="left:287.8px;top:530.9px;font-size:18.90px;color:#111;transform:scaleX(0.9735);transform-origin:0 50%;">52</div>
<div class="t" style="left:462.4px;top:490.2px;font-size:18.90px;color:#111;transform:scaleX(0.9734);transform-origin:0 50%;">62</div>
<div class="t" style="left:462.5px;top:530.9px;font-size:18.90px;color:#111;transform:scaleX(0.9735);transform-origin:0 50%;">57</div>
<div class="t" style="left:637.0px;top:490.2px;font-size:18.90px;color:#111;transform:scaleX(0.9734);transform-origin:0 50%;">67</div>
<div class="t" style="left:636.9px;top:530.9px;font-size:18.90px;color:#111;transform:scaleX(0.9839);transform-origin:0 50%;">62</div>
<div class="t" style="left:811.7px;top:490.2px;font-size:18.90px;color:#111;transform:scaleX(0.9739);transform-origin:0 50%;">72</div>
<div class="t" style="left:811.6px;top:530.9px;font-size:18.90px;color:#111;transform:scaleX(0.9839);transform-origin:0 50%;">67</div>
<div class="t" style="left:986.3px;top:490.2px;font-size:18.90px;color:#111;transform:scaleX(0.9739);transform-origin:0 50%;">77</div>
<div class="t" style="left:986.2px;top:530.9px;font-size:18.90px;color:#111;transform:scaleX(0.9843);transform-origin:0 50%;">72</div>
<div class="t" style="left:1161.1px;top:490.2px;font-size:18.90px;color:#111;transform:scaleX(0.9664);transform-origin:0 50%;">82</div>
<div class="t" style="left:1160.8px;top:530.9px;font-size:18.90px;color:#111;transform:scaleX(0.9843);transform-origin:0 50%;">77</div>
<div class="t" style="left:1335.8px;top:490.2px;font-size:18.90px;color:#111;transform:scaleX(0.9664);transform-origin:0 50%;">87</div>
<div class="t" style="left:1335.6px;top:530.9px;font-size:18.90px;color:#111;transform:scaleX(0.9768);transform-origin:0 50%;">82</div>
<div class="t" style="left:1510.3px;top:490.2px;font-size:18.90px;color:#111;transform:scaleX(0.9697);transform-origin:0 50%;">92</div>
<div class="t" style="left:1510.3px;top:530.9px;font-size:18.90px;color:#111;transform:scaleX(0.9768);transform-origin:0 50%;">87</div>
<div class="a" style="left:142.0px;top:578.7px;width:1419.0px;height:1.2px;background:#cdcdcd;"></div>
<div class="a" style="left:142.0px;top:608.2px;width:1419.0px;height:1.2px;background:#cdcdcd;"></div>
<div class="a" style="left:87.0px;top:560.5px;width:55.7px;height:63.8px;background:#fff;border:1.3px solid #d8d8d8;border-radius:13px;box-shadow:0 2px 4px rgba(0,0,0,.10);"></div>
<div class="a" style="left:0.0px;top:649.6px;width:1561.0px;height:1.4px;background:#cfcfcf;"></div>
<div class="a" style="left:0.0px;top:651.0px;width:1561.0px;height:122.0px;background:#f5f5f5;"></div>
<div class="a" style="left:0.0px;top:772.6px;width:1561.0px;height:1.4px;background:#cfcfcf;"></div>
<div class="a" style="left:32.6px;top:676.3px;width:1600.0px;height:70.7px;background:#fff;border:1.4px solid #cfcfcf;border-radius:15px 0 0 15px;"></div>
<div class="a" style="left:612.7px;top:676.3px;width:194.5px;height:70.7px;background:#3d6460;"></div>
<div class="a" style="left:224.9px;top:677.0px;width:1.3px;height:69.3px;background:#d3d3d3;"></div>
<div class="a" style="left:418.7px;top:677.0px;width:1.3px;height:69.3px;background:#d3d3d3;"></div>
<div class="a" style="left:1000.0px;top:677.0px;width:1.3px;height:69.3px;background:#d3d3d3;"></div>
<div class="a" style="left:1194.0px;top:677.0px;width:1.3px;height:69.3px;background:#d3d3d3;"></div>
<div class="a" style="left:1387.7px;top:677.0px;width:1.3px;height:69.3px;background:#d3d3d3;"></div>
<div class="t" style="left:65.3px;top:698.6px;font-size:27.62px;color:#1e1e1e;transform:scaleX(0.9735);transform-origin:0 50%;">Cash Flow</div>
<div class="t" style="left:262.8px;top:698.6px;font-size:27.62px;color:#1e1e1e;transform:scaleX(0.9871);transform-origin:0 50%;">Expenses</div>
<div class="t" style="left:438.9px;top:698.6px;font-size:27.62px;color:#1e1e1e;transform:scaleX(1.0416);transform-origin:0 50%;">Investme...</div>
<div class="t" style="left:652.7px;top:698.6px;font-size:27.62px;color:#fff;transform:scaleX(1.0132);transform-origin:0 50%;">Pensions</div>
<div class="t" style="left:848.3px;top:698.6px;font-size:27.62px;color:#1e1e1e;transform:scaleX(1.0583);transform-origin:0 50%;">Property</div>
<div class="t" style="left:1066.5px;top:698.6px;font-size:27.62px;color:#1e1e1e;transform:scaleX(1.0597);transform-origin:0 50%;">Debt</div>
<div class="t" style="left:1225.7px;top:698.6px;font-size:27.62px;color:#1e1e1e;transform:scaleX(1.0675);transform-origin:0 50%;">Protection</div>
<div class="t" style="left:1449.8px;top:698.6px;font-size:27.62px;color:#1e1e1e;transform:scaleX(1.0124);transform-origin:0 50%;">Taxes</div>
<div class="a" style="left:31.0px;top:816.0px;width:1600.0px;height:382.0px;border:1.4px solid #cfcfcf;border-radius:15px;background:#fff;"></div>
<div class="t" style="left:47.6px;top:851.5px;font-size:28.05px;color:#2b2b2b;-webkit-text-stroke:0.70px #2b2b2b;transform:scaleX(1.0839);transform-origin:0 50%;">Savings</div>
<div class="a" style="left:1273.5px;top:843.4px;width:286.5px;height:49.4px;border:1.3px solid #cfcfcf;border-radius:12px;background:#fff;"></div>
<div class="a" style="left:1413.0px;top:844.0px;width:1.3px;height:48.2px;background:#d0d0d0;"></div>
<div class="t" style="left:1285.7px;top:854.8px;font-size:26.16px;color:#1e1e1e;transform:scaleX(0.9245);transform-origin:0 50%;">Expand All</div>
<div class="t" style="left:1426.1px;top:854.8px;font-size:26.16px;color:#1e1e1e;transform:scaleX(0.9245);transform-origin:0 50%;">Collapse All</div>
<div class="a" style="left:1529.0px;top:838.0px;width:32.0px;height:60.0px;background:rgba(255,255,255,.8);"></div>
<svg class="a" style="left:1550.0px;top:834.0px;" width="20.0" height="44.0" viewBox="0 0 20 44" preserveAspectRatio="none"><path d="M7.5 5.5L18 22L7.5 38.5" fill="none" stroke="#6b6f75" stroke-width="2.6"/></svg>
<div class="a" style="left:32.4px;top:917.6px;width:1530.0px;height:1.4px;background:#d0d0d0;"></div>
<div class="a" style="left:32.4px;top:919.0px;width:1530.0px;height:73.6px;background:#f7f7f7;"></div>
<div class="a" style="left:32.4px;top:992.6px;width:1530.0px;height:1.4px;background:#d0d0d0;"></div>
<div class="t" style="left:47.9px;top:942.4px;font-size:27.91px;color:#2b2b2b;-webkit-text-stroke:0.60px #2b2b2b;transform:scaleX(1.0647);transform-origin:0 50%;">Name</div>
<svg class="a" style="left:136.0px;top:946.7px" width="18" height="21" viewBox="0 0 18 21"><path d="M2.6 1V18.6M0.3 15.6L2.6 19L4.9 15.6" fill="none" stroke="#2b2b2b" stroke-width="1.6"/><text x="6.3" y="8.6" font-size="9.6" font-family="Liberation Sans" fill="#2b2b2b">A</text><text x="6.5" y="19" font-size="10.4" font-family="Liberation Sans" fill="#2b2b2b">Z</text></svg>
<div class="t" style="left:310.0px;top:942.4px;font-size:27.91px;color:#2b2b2b;-webkit-text-stroke:0.60px #2b2b2b;transform:scaleX(1.0645);transform-origin:0 50%;">Owner</div>
<div class="t" style="left:619.2px;top:942.6px;font-size:27.91px;color:#2b2b2b;-webkit-text-stroke:0.60px #2b2b2b;transform:scaleX(0.9743);transform-origin:0 50%;">EOY Balance</div>
<div class="t" style="left:891.2px;top:942.6px;font-size:27.91px;color:#2b2b2b;-webkit-text-stroke:0.60px #2b2b2b;transform:scaleX(1.0859);transform-origin:0 50%;">Net Growth</div>
<div class="t" style="left:1124.8px;top:942.6px;font-size:27.91px;color:#2b2b2b;-webkit-text-stroke:0.60px #2b2b2b;transform:scaleX(1.0962);transform-origin:0 50%;">Contributions</div>
<div class="t" style="left:1401.4px;top:942.6px;font-size:27.91px;color:#2b2b2b;-webkit-text-stroke:0.60px #2b2b2b;transform:scaleX(1.0962);transform-origin:0 50%;">Withdrawals</div>
<div class="t" style="left:49.4px;top:1012.4px;font-size:26.74px;color:#2b2b2b;transform:scaleX(1.0905);transform-origin:0 50%;">Drawdown</div>
<div class="t" style="left:49.5px;top:1052.2px;font-size:26.74px;color:#2b2b2b;transform:scaleX(1.0386);transform-origin:0 50%;">Pension</div>
<div class="t" style="left:310.3px;top:1012.4px;font-size:26.74px;color:#2b2b2b;transform:scaleX(1.0693);transform-origin:0 50%;">Primary</div>
<div class="t" style="left:685.2px;top:1012.4px;font-size:26.74px;color:#2b2b2b;">£64,500</div>
<div class="t" style="left:946.1px;top:1012.4px;font-size:26.74px;color:#2b2b2b;transform:scaleX(0.9808);transform-origin:0 50%;">-35.50%</div>
<div class="t" style="left:1274.9px;top:1012.4px;font-size:26.74px;color:#2b2b2b;transform:scaleX(1.0126);transform-origin:0 50%;">£0</div>
<div class="t" style="left:1536.2px;top:1012.4px;font-size:26.74px;color:#2b2b2b;transform:scaleX(1.0126);transform-origin:0 50%;">£0</div>
<div class="t" style="left:49.5px;top:1114.1px;font-size:26.74px;color:#2b2b2b;transform:scaleX(1.0451);transform-origin:0 50%;">Money Purchase</div>
<div class="t" style="left:49.5px;top:1153.9px;font-size:26.74px;color:#2b2b2b;transform:scaleX(1.0386);transform-origin:0 50%;">Pension</div>
<div class="t" style="left:310.3px;top:1114.1px;font-size:26.74px;color:#2b2b2b;transform:scaleX(1.0693);transform-origin:0 50%;">Primary</div>
<div class="t" style="left:685.2px;top:1114.1px;font-size:26.74px;color:#2b2b2b;">£64,500</div>
<div class="t" style="left:946.1px;top:1114.1px;font-size:26.74px;color:#2b2b2b;transform:scaleX(0.9808);transform-origin:0 50%;">-35.50%</div>
<div class="t" style="left:1274.9px;top:1114.1px;font-size:26.74px;color:#2b2b2b;transform:scaleX(1.0126);transform-origin:0 50%;">£0</div>
<div class="t" style="left:1536.2px;top:1114.1px;font-size:26.74px;color:#2b2b2b;transform:scaleX(1.0126);transform-origin:0 50%;">£0</div>
<div class="a" style="left:31.0px;top:1240.4px;width:1600.0px;height:230.8px;border:1.4px solid #cfcfcf;border-radius:15px;background:#fff;"></div>
<div class="t" style="left:47.9px;top:1276.2px;font-size:28.05px;color:#2b2b2b;-webkit-text-stroke:0.70px #2b2b2b;transform:scaleX(1.1984);transform-origin:0 50%;">Annuity</div>
<div class="a" style="left:32.4px;top:1335.4px;width:1530.0px;height:1.4px;background:#d0d0d0;"></div>
<div class="a" style="left:32.4px;top:1336.8px;width:1530.0px;height:73.0px;background:#f7f7f7;"></div>
<div class="a" style="left:32.4px;top:1409.8px;width:1530.0px;height:1.4px;background:#d0d0d0;"></div>
<div class="t" style="left:47.9px;top:1360.4px;font-size:27.91px;color:#2b2b2b;-webkit-text-stroke:0.60px #2b2b2b;transform:scaleX(1.0647);transform-origin:0 50%;">Name</div>
<svg class="a" style="left:136.0px;top:1364.9px" width="18" height="21" viewBox="0 0 18 21"><path d="M2.6 1V18.6M0.3 15.6L2.6 19L4.9 15.6" fill="none" stroke="#2b2b2b" stroke-width="1.6"/><text x="6.3" y="8.6" font-size="9.6" font-family="Liberation Sans" fill="#2b2b2b">A</text><text x="6.5" y="19" font-size="10.4" font-family="Liberation Sans" fill="#2b2b2b">Z</text></svg>
<div class="t" style="left:439.6px;top:1360.3px;font-size:27.91px;color:#2b2b2b;-webkit-text-stroke:0.60px #2b2b2b;transform:scaleX(1.0620);transform-origin:0 50%;">Owner</div>
<div class="t" style="left:1082.7px;top:1360.3px;font-size:27.91px;color:#2b2b2b;-webkit-text-stroke:0.60px #2b2b2b;transform:scaleX(1.0534);transform-origin:0 50%;">Payout</div>
<div class="t" style="left:1372.7px;top:1360.4px;font-size:27.91px;color:#2b2b2b;-webkit-text-stroke:0.60px #2b2b2b;">Purchase Price</div>
<div class="t" style="left:47.9px;top:1428.4px;font-size:26.74px;color:#2b2b2b;transform:scaleX(1.0715);transform-origin:0 50%;">Annuity Payout</div>
<div class="t" style="left:438.6px;top:1428.4px;font-size:26.74px;color:#2b2b2b;transform:scaleX(1.0782);transform-origin:0 50%;">Primary</div>
<div class="t" style="left:1092.6px;top:1428.4px;font-size:26.74px;color:#2b2b2b;transform:scaleX(1.0075);transform-origin:0 50%;">£5,000</div>
<div class="t" style="left:1536.6px;top:1428.4px;font-size:26.74px;color:#2b2b2b;transform:scaleX(1.0126);transform-origin:0 50%;">£0</div>
<div class="a" style="left:0.0px;top:1526.0px;width:1561.0px;height:71.0px;background:#eef2fa;"></div>
<div class="a" style="left:0.0px;top:1526.0px;width:1561.0px;height:1.6px;background:#c9d6f3;"></div>
<div class="a" style="left:0.0px;top:1594.4px;width:1561.0px;height:2.6px;background:#d3e0f8;"></div>
<svg class="a" style="left:0;top:1535px" width="120" height="55" viewBox="0 1535 120 55"><g fill="#474747"><rect x="3.45" y="1543.35" width="3.7" height="3.7"/><rect x="11.15" y="1543.35" width="3.7" height="3.7"/><rect x="19.25" y="1543.35" width="3.7" height="3.7"/><rect x="27.05" y="1543.35" width="3.7" height="3.7"/><rect x="34.75" y="1543.35" width="3.7" height="3.7"/><rect x="3.45" y="1551.15" width="3.7" height="3.7"/><rect x="3.45" y="1559.15" width="3.7" height="3.7"/><rect x="3.45" y="1567.25" width="3.7" height="3.7"/><rect x="3.45" y="1574.75" width="3.7" height="3.7"/><rect x="11.15" y="1574.75" width="3.7" height="3.7"/><rect x="34.75" y="1551.15" width="3.7" height="3.7"/><rect x="18.6" y="1558.6" width="3.5" height="19.8"/><rect x="18.6" y="1558.6" width="19.6" height="3.5"/></g><path d="M20.6 1560.6L37 1577" stroke="#474747" stroke-width="3.7"/><path d="M78.1 1573.5V1551Q78.1 1548.1 81 1548.1H108.4" fill="none" stroke="#474747" stroke-width="3.6"/><rect x="71.1" y="1571.1" width="19.7" height="4.7" fill="#474747"/><rect x="97.95" y="1555.15" width="10.9" height="18.8" rx="2.5" fill="none" stroke="#474747" stroke-width="3.7"/></svg>
<div class="a" style="left:136.0px;top:1541.2px;width:2.8px;height:39.7px;background:#d3e3fd;border-radius:2px;"></div>
<div class="t" style="left:168.3px;top:1548.8px;font-size:30.52px;color:#474747;-webkit-text-stroke:0.50px #474747;transform:scaleX(0.9730);transform-origin:0 50%;">Elements</div>
<div class="t" style="left:343.1px;top:1548.8px;font-size:30.52px;color:#474747;-webkit-text-stroke:0.50px #474747;transform:scaleX(0.9763);transform-origin:0 50%;">Console</div>
<div class="t" style="left:502.7px;top:1548.8px;font-size:30.52px;color:#474747;-webkit-text-stroke:0.50px #474747;transform:scaleX(0.9499);transform-origin:0 50%;">Sources</div>
<div class="t" style="left:659.4px;top:1548.8px;font-size:30.52px;color:#3b55d0;-webkit-text-stroke:0.50px #3b55d0;transform:scaleX(1.0531);transform-origin:0 50%;">Network</div>
<div class="t" style="left:827.2px;top:1548.8px;font-size:30.52px;color:#474747;-webkit-text-stroke:0.50px #474747;">Performance</div>
<div class="a" style="left:636.6px;top:1591.0px;width:167.0px;height:5.0px;background:#3b55d0;border-radius:3px 3px 0 0;"></div>
<svg class="a" style="left:1038.0px;top:1549.0px;" width="32.0" height="25.0" viewBox="0 0 32 25" preserveAspectRatio="none"><path d="M2 2L12 12.5L2 23M16 2L26 12.5L16 23" fill="none" stroke="#5f5f5f" stroke-width="3.4"/></svg>
<svg class="a" style="left:1219.4px;top:1545.9px;" width="27.6" height="27.6" viewBox="0 0 28 28" preserveAspectRatio="none"><circle cx="14" cy="14" r="14" fill="#c5392d"/><path d="M8.6 8.6L19.4 19.4M19.4 8.6L8.6 19.4" stroke="#fff" stroke-width="2.6"/></svg>
<div class="t" style="left:1253.5px;top:1546.3px;font-size:29.94px;color:#474747;transform:scaleX(0.9875);transform-origin:0 50%;">4</div>
<svg class="a" style="left:1286.6px;top:1546.0px;" width="30.8" height="26.5" viewBox="0 0 31 26.5" preserveAspectRatio="none"><path d="M15.5 0L31 26.5H0Z" fill="#d5702b"/><path d="M15.5 8V17" stroke="#fff" stroke-width="3.2"/><circle cx="15.5" cy="21.2" r="1.8" fill="#fff"/></svg>
<div class="t" style="left:1323.4px;top:1546.3px;font-size:29.94px;color:#474747;transform:scaleX(0.6352);transform-origin:0 50%;">1</div>
<svg class="a" style="left:1359.0px;top:1549.0px;" width="24.5" height="24.5" viewBox="0 0 24.5 24.5" preserveAspectRatio="none"><path d="M2.5 0H22a2.5 2.5 0 0 1 2.5 2.5V16a2.5 2.5 0 0 1-2.5 2.5H5.5L0 24.5V2.5A2.5 2.5 0 0 1 2.5 0Z" fill="#4a72e0"/><path d="M5 5.5H19.5M5 9.5H19.5M5 13.5H14" stroke="#fff" stroke-width="2"/></svg>
<div class="t" style="left:1389.3px;top:1546.3px;font-size:29.94px;color:#474747;transform:scaleX(0.6352);transform-origin:0 50%;">1</div>
<div class="a" style="left:1427.0px;top:1541.0px;width:1.6px;height:39.0px;background:#c9d6f3;"></div>
<svg class="a" style="left:1450px;top:1537px" width="48" height="48" viewBox="1450 1537 48 48"><path d="M1469.60 1550.00 L1470.53 1545.35 L1477.27 1545.35 L1478.20 1550.00 L1481.45 1551.87 L1485.94 1550.36 L1489.31 1556.19 L1485.75 1559.32 L1485.75 1563.08 L1489.31 1566.21 L1485.94 1572.04 L1481.45 1570.53 L1478.20 1572.40 L1477.27 1577.05 L1470.53 1577.05 L1469.60 1572.40 L1466.35 1570.53 L1461.86 1572.04 L1458.49 1566.21 L1462.05 1563.08 L1462.05 1559.32 L1458.49 1556.19 L1461.86 1550.36 L1466.35 1551.87Z" fill="none" stroke="#474747" stroke-width="3.3" stroke-linejoin="round"/><circle cx="1473.9" cy="1561.2" r="5.4" fill="#474747"/></svg>
<svg class="a" style="left:1522.1px;top:1539.8px;" width="43.0" height="43.0" viewBox="0 0 24 24" preserveAspectRatio="none"><path d="M12 8c1.1 0 2-.9 2-2s-.9-2-2-2-2 .9-2 2 .9 2 2 2zm0 2c-1.1 0-2 .9-2 2s.9 2 2 2 2-.9 2-2-.9-2-2-2zm0 6c-1.1 0-2 .9-2 2s.9 2 2 2 2-.9 2-2-.9-2-2-2z" fill="#474747"/></svg></div>
<div class="a" style="left:1561.0px;top:0.0px;width:3.0px;height:1597.0px;background:#c8c8c8;"></div>
<div class="a" style="left:1564.0px;top:0.0px;width:1774.0px;height:89.0px;background:#fff;"></div>
<div class="a" style="left:1564.0px;top:89.0px;width:1774.0px;height:3.0px;background:#dadce0;"></div>
<svg class="a" style="left:1596.5px;top:9.8px;" width="45.0" height="45.0" viewBox="0 0 24 24" preserveAspectRatio="none"><path d="M7.825 13 13.425 18.6 12 20 4 12 12 4 13.425 5.4 7.825 11H20v2Z" fill="#a8a8a8"/></svg>
<svg class="a" style="left:1685.5px;top:9.8px;" width="45.0" height="45.0" viewBox="0 0 24 24" preserveAspectRatio="none"><path d="M16.175 13H4v-2h12.175l-5.6-5.6L12 4l8 8-8 8-1.425-1.4Z" fill="#a8a8a8"/></svg>
<svg class="a" style="left:1776.5px;top:9.8px;" width="45.0" height="45.0" viewBox="0 0 24 24" preserveAspectRatio="none"><path d="M12 20q-3.35 0-5.675-2.325Q4 15.35 4 12q0-3.35 2.325-5.675Q8.65 4 12 4q1.725 0 3.3.712 1.575.713 2.7 2.038V4h2v7h-7V9h4.2q-.8-1.4-2.187-2.2Q13.625 6 12 6 9.5 6 7.75 7.75T6 12q0 2.5 1.75 4.25T12 18q1.925 0 3.475-1.1T17.65 14h2.1q-.7 2.65-2.85 4.325Q14.75 20 12 20Z" fill="#474747"/></svg>
<div class="a" style="left:1864.4px;top:-1.0px;width:926.2px;height:74.0px;background:#eef1f9;border-radius:37px;"></div>
<div class="a" style="left:1876.4px;top:1.8px;width:124.1px;height:59.5px;background:#fff;border-radius:30px;"></div>
<svg class="a" style="left:1887.8px;top:13.3px;" width="38.2" height="38.2" viewBox="0 0 24 24" preserveAspectRatio="none"><path d="M11 7h2v2h-2zm0 4h2v6h-2zm1-9C6.48 2 2 6.48 2 12s4.48 10 10 10 10-4.48 10-10S17.52 2 12 2zm0 18c-4.41 0-8-3.59-8-8s3.590-8 8-8 8 3.59 8 8-3.59 8-8 8z" fill="#1f1f1f"/></svg>
<div class="t" style="left:1936.1px;top:16.0px;font-size:31.40px;color:#1f1f1f;transform:scaleX(0.9395);transform-origin:0 50%;">File</div>
<div class="t" style="left:2021.8px;top:14.2px;font-size:35.76px;color:#1f1f1f;transform:scaleX(0.9598);transform-origin:0 50%;">C:/Users/marina.khudoiarova/Downloads...</div>
<svg class="a" style="left:2710.3px;top:10.5px;" width="44.4" height="44.4" viewBox="0 0 24 24" preserveAspectRatio="none"><path d="M22 9.24l-7.19-.62L12 2 9.19 8.63 2 9.24l5.46 4.73L5.82 21 12 17.27 18.18 21l-1.63-7.03L22 9.24zM12 15.4l-3.76 2.27 1-4.28-3.32-2.88 4.38-.38L12 6.1l1.71 4.04 4.38.38-3.32 2.88 1 4.28L12 15.4z" fill="#474747"/></svg>
<svg class="a" style="left:2833.1px;top:4.9px" width="52" height="52" viewBox="-6 -10 52 52"><path d="M1.6 11.4V4.6Q1.6 1.6 4.6 1.6H29.7Q32.7 1.6 32.7 4.6V30.5Q32.7 33.5 29.7 33.5H4.6Q1.6 33.5 1.6 30.5V22.8A5.9 5.9 0 0 0 1.6 11.4Z" fill="none" stroke="#474747" stroke-width="3.2"/><path d="M11.9 1.8A5.4 5.4 0 0 1 22.7 1.8Z" fill="#474747"/><path d="M32.5 12.4A5.4 5.4 0 0 1 32.5 23.2Z" fill="#474747"/></svg>
<div class="a" style="left:2923.0px;top:12.0px;width:2.5px;height:38.5px;background:#d3e3fd;border-radius:2px;"></div>
<svg class="a" style="left:2967.0px;top:9.0px;" width="50.0" height="44.0" viewBox="0 0 50 44" preserveAspectRatio="none"><path d="M24 5H9.5Q5.5 5 5.5 9V30Q5.5 34 9.5 34H22" fill="none" stroke="#474747" stroke-width="3.6"/><path d="M24 3h19a4 4 0 0 1 4 4v7H24z" fill="#474747"/><circle cx="34" cy="28" r="6.5" fill="none" stroke="#474747" stroke-width="3.6"/><path d="M38.5 32.5L45 39" stroke="#474747" stroke-width="3.8"/></svg>
<div class="a" style="left:3058.0px;top:12.0px;width:2.5px;height:38.5px;background:#d3e3fd;border-radius:2px;"></div>
<svg class="a" style="left:3095.8px;top:2.2px;" width="61.5" height="61.5" viewBox="0 0 24 24" preserveAspectRatio="none"><path d="M12 16 7 11 8.4 9.55 11 12.15V4H13V12.15L15.6 9.55L17 11ZM6 20Q5.175 20 4.588 19.413Q4 18.825 4 18V15H6V18H18V15H20V18Q20 18.825 19.413 19.413Q18.825 20 18 20Z" fill="#3c4fcb"/></svg>
<div class="a" style="left:3110.0px;top:60.0px;width:35.0px;height:4.5px;background:#a0a0a0;border-radius:3px;"></div>
<svg class="a" style="left:3192.0px;top:8.0px;" width="49.2" height="49.2" viewBox="0 0 24 24" preserveAspectRatio="none"><path d="M12 2C6.48 2 2 6.48 2 12s4.48 10 10 10 10-4.48 10-10S17.52 2 12 2zM7.07 18.28c.43-.9 3.05-1.78 4.93-1.78s4.51.88 4.930 1.78C15.57 19.36 13.86 20 12 20s-3.57-.64-4.93-1.72zm11.29-1.450c-1.43-1.74-4.9-2.33-6.36-2.33s-4.93.59-6.36 2.33C4.62 15.49 4 13.82 4 12c0-4.41 3.59-8 8-8s8 3.59 8 8c0 1.82-.62 3.49-1.64 4.83zM12 6c-1.94 0-3.5 1.56-3.5 3.5S10.06 13 12 13s3.5-1.56 3.5-3.5S13.94 6 12 6zm0 5c-.83 0-1.5-.67-1.5-1.5S11.17 8 12 8s1.5.67 1.5 1.5S12.83 11 12 11z" fill="#3c4fcb"/></svg>
<svg class="a" style="left:3286.4px;top:11.0px;" width="41.2" height="41.2" viewBox="0 0 24 24" preserveAspectRatio="none"><path d="M12 8c1.1 0 2-.9 2-2s-.9-2-2-2-2 .9-2 2 .9 2 2 2zm0 2c-1.1 0-2 .9-2 2s.9 2 2 2 2-.9 2-2-.9-2-2-2zm0 6c-1.1 0-2 .9-2 2s.9 2 2 2 2-.9 2-2-.9-2-2-2z" fill="#474747"/></svg>
<div class="a" style="left:1564.0px;top:92.0px;width:1774.0px;height:139.5px;background:#3c3c3c;"></div>
<svg class="a" style="left:1626.0px;top:151.0px;" width="36.0" height="23.5" viewBox="0 0 36 23.5" preserveAspectRatio="none"><path d="M0 2H36M0 11.75H36M0 21.5H36" stroke="#f1f1f1" stroke-width="3.6"/></svg>
<div class="t" style="left:1723.8px;top:145.2px;font-size:35.61px;color:#f1f1f1;-webkit-text-stroke:0.70px #f1f1f1;transform:scaleX(0.9812);transform-origin:0 50%;">Voyant Re...</div>
<div class="a" style="left:1962.0px;top:137.0px;width:59.0px;height:50.0px;background:#1f1f1f;"></div>
<div class="t" style="left:1972.8px;top:145.2px;font-size:35.61px;color:#f1f1f1;transform:scaleX(0.9373);transform-origin:0 50%;">28</div>
<div class="t" style="left:2032.0px;top:145.2px;font-size:35.61px;color:#f1f1f1;transform:scaleX(0.9326);transform-origin:0 50%;">/ 35</div>
<div class="a" style="left:2140.0px;top:137.0px;width:2.5px;height:50.0px;background:#8d8d8d;"></div>
<div class="a" style="left:2178.0px;top:159.3px;width:28.0px;height:3.6px;background:#f1f1f1;"></div>
<div class="a" style="left:2242.0px;top:137.0px;width:110.0px;height:50.0px;background:#1f1f1f;"></div>
<div class="t" style="left:2256.4px;top:145.2px;font-size:35.61px;color:#f1f1f1;transform:scaleX(0.8910);transform-origin:0 50%;">100%</div>
<div class="a" style="left:2389.0px;top:159.3px;width:26.0px;height:3.6px;background:#f1f1f1;"></div>
<div class="a" style="left:2400.2px;top:148.0px;width:3.6px;height:26.0px;background:#f1f1f1;"></div>
<div class="a" style="left:2452.0px;top:137.0px;width:2.5px;height:50.0px;background:#8d8d8d;"></div>
<svg class="a" style="left:2508.0px;top:141.5px;" width="32.0" height="40.5" viewBox="0 0 32 40.5" preserveAspectRatio="none"><rect x="1.8" y="1.8" width="28.4" height="36.9" rx="3" fill="none" stroke="#f1f1f1" stroke-width="3.4"/><path d="M10 15L16 9L22 15ZM10 25.5L16 31.5L22 25.5Z" fill="#f1f1f1"/></svg>
<svg class="a" style="left:2580.0px;top:141.0px;" width="46.0" height="41.0" viewBox="0 0 46 41" preserveAspectRatio="none"><path d="M22 6.5A16 16 0 1 1 14 36" fill="none" stroke="#f1f1f1" stroke-width="3.4"/><path d="M22.5 0V13L14.5 6.5Z" fill="#f1f1f1"/><path d="M2.5 22L12.5 12L22.5 22L12.5 32Z" fill="none" stroke="#f1f1f1" stroke-width="3.4"/></svg>
<div class="a" style="left:2675.0px;top:137.0px;width:2.5px;height:50.0px;background:#8d8d8d;"></div>
<svg class="a" style="left:0;top:0" width="3338" height="240" viewBox="0 0 3338 240"><path d="M2716 149L2722.5 146.2Q2726.2 147.2 2722.5 155.5L2717.6 166.5Q2716.8 172.2 2721.2 169.8L2732 159.5Q2738 154.2 2741.6 158Q2745 162 2741 169.2Q2737 177.8 2733 176Q2729 173.6 2733 168Q2737.5 163.4 2749.5 164.2" fill="none" stroke="#f1f1f1" stroke-width="3.4" stroke-linecap="butt" stroke-linejoin="round"/></svg>
<div class="a" style="left:2787.0px;top:137.0px;width:2.5px;height:50.0px;background:#8d8d8d;"></div>
<svg class="a" style="left:0;top:0" width="3338" height="240" viewBox="0 0 3338 240"><g fill="none" stroke="#8a8a8a" stroke-width="3.4"><path d="M2839.8 150.5L2831.5 158.8L2839.8 167.1"/><path d="M2831.5 158.8H2849Q2857.3 158.8 2857.3 166.8Q2857.3 174.8 2849 174.8H2834.5"/></g><g transform="translate(5768.8 0) scale(-1 1)"><g fill="none" stroke="#8a8a8a" stroke-width="3.4"><path d="M2839.8 150.5L2831.5 158.8L2839.8 167.1"/><path d="M2831.5 158.8H2849Q2857.3 158.8 2857.3 166.8Q2857.3 174.8 2849 174.8H2834.5"/></g></g></svg>
<svg class="a" style="left:3086.0px;top:144.0px;" width="32.0" height="34.0" viewBox="0 0 32 34" preserveAspectRatio="none"><path d="M16 0V21M6.5 12L16 21.5L25.5 12" fill="none" stroke="#f1f1f1" stroke-width="3.4"/><path d="M1.8 24V32.2H30.2V24" fill="none" stroke="#f1f1f1" stroke-width="3.4"/></svg>
<svg class="a" style="left:3170.0px;top:143.0px;" width="43.0" height="38.0" viewBox="0 0 43 38" preserveAspectRatio="none"><path d="M10 10V2H33V10" fill="none" stroke="#f1f1f1" stroke-width="3.4"/><path d="M10 29H3.5Q1.8 29 1.8 27V14Q1.8 10 5.8 10H37.2Q41.2 10 41.2 14V27Q41.2 29 39.5 29H33" fill="none" stroke="#f1f1f1" stroke-width="3.4"/><rect x="10" y="21" width="23" height="15.2" fill="none" stroke="#f1f1f1" stroke-width="3.4"/><circle cx="34.5" cy="16.5" r="2" fill="#f1f1f1"/></svg>
<svg class="a" style="left:3263.3px;top:141.5px;" width="37.4" height="43.0" viewBox="0 0 24 24" preserveAspectRatio="none"><path d="M12 8c1.1 0 2-.9 2-2s-.9-2-2-2-2 .9-2 2 .9 2 2 2zm0 2c-1.1 0-2 .9-2 2s.9 2 2 2 2-.9 2-2-.9-2-2-2zm0 6c-1.1 0-2 .9-2 2s.9 2 2 2 2-.9 2-2-.9-2-2-2z" fill="#f1f1f1"/></svg>
<div class="a" style="left:1564.0px;top:231.5px;width:14.0px;height:1366.0px;background:#262626;"></div>
<div class="a" style="left:1578.0px;top:231.5px;width:1745.0px;height:1366.0px;background:#fff;"></div>
<div class="t" style="left:1666.0px;top:228.4px;font-size:65.70px;color:#333;-webkit-text-stroke:1.70px #333;transform:scaleX(0.9428);transform-origin:0 50%;">Plan Facts and Assumptions</div>
<div class="a" style="left:1665.9px;top:299.8px;width:1657.0px;height:1.8px;background:#8d8d8d;"></div>
<div class="t" style="left:1666.4px;top:399.4px;font-size:43.17px;color:#333;-webkit-text-stroke:1.20px #333;transform:scaleX(0.9519);transform-origin:0 50%;">Pensions</div>
<div class="a" style="left:1676.0px;top:490.5px;width:845.0px;height:99.5px;background:#f0f0f0;"></div>
<div class="a" style="left:1676.0px;top:490.5px;width:845.0px;height:2.0px;background:#dcdcdc;"></div>
<div class="a" style="left:1676.0px;top:588.5px;width:845.0px;height:2.0px;background:#dcdcdc;"></div>
<div class="t" style="left:1709.4px;top:505.5px;font-size:28.63px;color:#333;-webkit-text-stroke:0.70px #333;transform:scaleX(0.9605);transform-origin:0 50%;">State Pension (Primary)</div>
<div class="t" style="left:1709.8px;top:548.1px;font-size:27.91px;color:#333;transform:scaleX(0.9879);transform-origin:0 50%;">Year(s): 2037 | Primary : 67</div>
<div class="t" style="left:1709.9px;top:610.4px;font-size:28.49px;color:#333;transform:scaleX(0.9584);transform-origin:0 50%;">Type</div>
<div class="t" style="left:2133.8px;top:610.4px;font-size:28.49px;color:#333;transform:scaleX(0.9584);transform-origin:0 50%;">State Pension</div>
<div class="a" style="left:1677.0px;top:651.5px;width:420.0px;height:2.0px;background:#dcdcdc;"></div>
<div class="a" style="left:2101.0px;top:651.5px;width:420.0px;height:2.0px;background:#dcdcdc;"></div>
<div class="t" style="left:1708.3px;top:672.0px;font-size:28.49px;color:#333;transform:scaleX(0.9584);transform-origin:0 50%;">Balance (Present Value)</div>
<div class="t" style="left:2134.2px;top:672.0px;font-size:28.49px;color:#333;transform:scaleX(0.9584);transform-origin:0 50%;">£5,000</div>
<div class="a" style="left:1677.0px;top:713.1px;width:420.0px;height:2.0px;background:#dcdcdc;"></div>
<div class="a" style="left:2101.0px;top:713.1px;width:420.0px;height:2.0px;background:#dcdcdc;"></div>
<div class="a" style="left:2566.3px;top:490.5px;width:773.7px;height:99.5px;background:#f0f0f0;"></div>
<div class="a" style="left:2566.3px;top:490.5px;width:773.7px;height:2.0px;background:#dcdcdc;"></div>
<div class="a" style="left:2566.3px;top:588.5px;width:773.7px;height:2.0px;background:#dcdcdc;"></div>
<div class="t" style="left:2598.6px;top:505.5px;font-size:28.63px;color:#333;-webkit-text-stroke:0.70px #333;transform:scaleX(0.9605);transform-origin:0 50%;">Money Purchase Pension (Primary)</div>
<div class="t" style="left:2600.1px;top:548.1px;font-size:27.91px;color:#333;transform:scaleX(0.9879);transform-origin:0 50%;">Year(s): 2022 | Primary : 52</div>
<div class="t" style="left:2600.2px;top:610.4px;font-size:28.49px;color:#333;transform:scaleX(0.9584);transform-origin:0 50%;">Type</div>
<div class="t" style="left:3023.1px;top:610.4px;font-size:28.49px;color:#333;transform:scaleX(0.9584);transform-origin:0 50%;">Personal Pension</div>
<div class="a" style="left:2567.3px;top:651.5px;width:420.0px;height:2.0px;background:#dcdcdc;"></div>
<div class="a" style="left:2991.3px;top:651.5px;width:348.7px;height:2.0px;background:#dcdcdc;"></div>
<div class="t" style="left:2598.6px;top:672.0px;font-size:28.49px;color:#333;transform:scaleX(0.9584);transform-origin:0 50%;">Balance</div>
<div class="t" style="left:3024.5px;top:672.0px;font-size:28.49px;color:#333;transform:scaleX(0.9584);transform-origin:0 50%;">£100,000</div>
<div class="a" style="left:2567.3px;top:713.1px;width:420.0px;height:2.0px;background:#dcdcdc;"></div>
<div class="a" style="left:2991.3px;top:713.1px;width:348.7px;height:2.0px;background:#dcdcdc;"></div>
<div class="t" style="left:2598.6px;top:733.6px;font-size:28.49px;color:#333;transform:scaleX(0.9584);transform-origin:0 50%;">Net Growth Rate</div>
<div class="a" style="left:2567.3px;top:774.7px;width:420.0px;height:2.0px;background:#dcdcdc;"></div>
<div class="a" style="left:2991.3px;top:774.7px;width:348.7px;height:2.0px;background:#dcdcdc;"></div>
<div class="a" style="left:1676.0px;top:866.4px;width:845.0px;height:99.5px;background:#f0f0f0;"></div>
<div class="a" style="left:1676.0px;top:866.4px;width:845.0px;height:2.0px;background:#dcdcdc;"></div>
<div class="a" style="left:1676.0px;top:964.4px;width:845.0px;height:2.0px;background:#dcdcdc;"></div>
<div class="t" style="left:1708.3px;top:881.4px;font-size:28.63px;color:#333;-webkit-text-stroke:0.70px #333;transform:scaleX(0.9605);transform-origin:0 50%;">Final Salary Pension (Primary)</div>
<div class="t" style="left:1709.8px;top:924.0px;font-size:27.91px;color:#333;transform:scaleX(0.9872);transform-origin:0 50%;">Year(s): 2035 | Primary : 65</div>
<div class="t" style="left:1709.9px;top:986.3px;font-size:28.49px;color:#333;transform:scaleX(0.9584);transform-origin:0 50%;">Type</div>
<div class="t" style="left:2132.8px;top:986.3px;font-size:28.49px;color:#333;transform:scaleX(0.9584);transform-origin:0 50%;">Final Salary</div>
<div class="a" style="left:1677.0px;top:1027.4px;width:420.0px;height:2.0px;background:#dcdcdc;"></div>
<div class="a" style="left:2101.0px;top:1027.4px;width:420.0px;height:2.0px;background:#dcdcdc;"></div>
<div class="t" style="left:1708.3px;top:1047.9px;font-size:28.49px;color:#333;transform:scaleX(0.9584);transform-origin:0 50%;">Balance</div>
<div class="t" style="left:2134.2px;top:1047.9px;font-size:28.49px;color:#333;transform:scaleX(0.9584);transform-origin:0 50%;">£134,534</div>
<div class="a" style="left:1677.0px;top:1089.0px;width:420.0px;height:2.0px;background:#dcdcdc;"></div>
<div class="a" style="left:2101.0px;top:1089.0px;width:420.0px;height:2.0px;background:#dcdcdc;"></div>
<div class="t" style="left:1709.3px;top:1109.5px;font-size:28.49px;color:#333;transform:scaleX(0.9584);transform-origin:0 50%;">Status</div>
<div class="t" style="left:2134.9px;top:1109.5px;font-size:28.49px;color:#333;transform:scaleX(0.9584);transform-origin:0 50%;">Active</div>
<div class="a" style="left:1677.0px;top:1150.6px;width:420.0px;height:2.0px;background:#dcdcdc;"></div>
<div class="a" style="left:2101.0px;top:1150.6px;width:420.0px;height:2.0px;background:#dcdcdc;"></div>
<div class="t" style="left:1709.3px;top:1171.1px;font-size:28.49px;color:#333;transform:scaleX(0.9584);transform-origin:0 50%;">Survivor Percent</div>
<div class="t" style="left:2133.9px;top:1171.1px;font-size:28.49px;color:#333;transform:scaleX(0.9584);transform-origin:0 50%;">0%</div>
<div class="a" style="left:1677.0px;top:1212.2px;width:420.0px;height:2.0px;background:#dcdcdc;"></div>
<div class="a" style="left:2101.0px;top:1212.2px;width:420.0px;height:2.0px;background:#dcdcdc;"></div>
<div class="a" style="left:2566.3px;top:866.4px;width:773.7px;height:99.5px;background:#f0f0f0;"></div>
<div class="a" style="left:2566.3px;top:866.4px;width:773.7px;height:2.0px;background:#dcdcdc;"></div>
<div class="a" style="left:2566.3px;top:964.4px;width:773.7px;height:2.0px;background:#dcdcdc;"></div>
<div class="t" style="left:2598.6px;top:881.4px;font-size:28.63px;color:#333;-webkit-text-stroke:0.70px #333;transform:scaleX(0.9605);transform-origin:0 50%;">Drawdown - Money Purchase Pension (Primary)</div>
<div class="t" style="left:2600.1px;top:924.0px;font-size:27.91px;color:#333;transform:scaleX(0.9879);transform-origin:0 50%;">Year(s): 2022 | Primary : 52</div>
<div class="t" style="left:2600.2px;top:986.3px;font-size:28.49px;color:#333;transform:scaleX(0.9584);transform-origin:0 50%;">Type</div>
<div class="t" style="left:3023.1px;top:986.3px;font-size:28.49px;color:#333;transform:scaleX(0.9584);transform-origin:0 50%;">Drawdown Pension</div>
<div class="a" style="left:2567.3px;top:1027.4px;width:420.0px;height:2.0px;background:#dcdcdc;"></div>
<div class="a" style="left:2991.3px;top:1027.4px;width:348.7px;height:2.0px;background:#dcdcdc;"></div>
<div class="t" style="left:2598.6px;top:1047.9px;font-size:28.49px;color:#333;transform:scaleX(0.9584);transform-origin:0 50%;">Balance</div>
<div class="t" style="left:3024.5px;top:1047.9px;font-size:28.49px;color:#333;transform:scaleX(0.9584);transform-origin:0 50%;">£0</div>
<div class="a" style="left:2567.3px;top:1089.0px;width:420.0px;height:2.0px;background:#dcdcdc;"></div>
<div class="a" style="left:2991.3px;top:1089.0px;width:348.7px;height:2.0px;background:#dcdcdc;"></div>
<div class="a" style="left:1676.0px;top:1304.5px;width:845.0px;height:99.5px;background:#f0f0f0;"></div>
<div class="a" style="left:1676.0px;top:1304.5px;width:845.0px;height:2.0px;background:#dcdcdc;"></div>
<div class="a" style="left:1676.0px;top:1402.5px;width:845.0px;height:2.0px;background:#dcdcdc;"></div>
<div class="t" style="left:1708.3px;top:1319.5px;font-size:28.63px;color:#333;-webkit-text-stroke:0.70px #333;transform:scaleX(0.9605);transform-origin:0 50%;">Drawdown Pension (Primary)</div>
<div class="t" style="left:1709.8px;top:1362.1px;font-size:27.91px;color:#333;transform:scaleX(0.9879);transform-origin:0 50%;">Year(s): 2022 | Primary : 52</div>
<div class="t" style="left:1709.9px;top:1424.4px;font-size:28.49px;color:#333;transform:scaleX(0.9584);transform-origin:0 50%;">Type</div>
<div class="t" style="left:2132.8px;top:1424.4px;font-size:28.49px;color:#333;transform:scaleX(0.9584);transform-origin:0 50%;">Drawdown Pension</div>
<div class="a" style="left:1677.0px;top:1465.5px;width:420.0px;height:2.0px;background:#dcdcdc;"></div>
<div class="a" style="left:2101.0px;top:1465.5px;width:420.0px;height:2.0px;background:#dcdcdc;"></div>
<div class="t" style="left:1708.3px;top:1486.0px;font-size:28.49px;color:#333;transform:scaleX(0.9584);transform-origin:0 50%;">Balance</div>
<div class="t" style="left:2134.2px;top:1486.0px;font-size:28.49px;color:#333;transform:scaleX(0.9584);transform-origin:0 50%;">£100,000</div>
<div class="a" style="left:1677.0px;top:1527.1px;width:420.0px;height:2.0px;background:#dcdcdc;"></div>
<div class="a" style="left:2101.0px;top:1527.1px;width:420.0px;height:2.0px;background:#dcdcdc;"></div>
<div class="t" style="left:1708.3px;top:1547.6px;font-size:28.49px;color:#333;transform:scaleX(0.9584);transform-origin:0 50%;">Net Growth Rate</div>
<div class="a" style="left:1677.0px;top:1588.7px;width:420.0px;height:2.0px;background:#dcdcdc;"></div>
<div class="a" style="left:2101.0px;top:1588.7px;width:420.0px;height:2.0px;background:#dcdcdc;"></div>
<div class="a" style="left:3322.8px;top:231.5px;width:15.2px;height:1366.0px;background:#fafafa;"></div>
<svg class="a" style="left:3329.0px;top:244.0px;" width="13.0" height="17.0" viewBox="0 0 13 17" preserveAspectRatio="none"><path d="M7 1.5L1 13.5Q0.5 15.5 2.5 15.5H13V1.5Z" fill="#8c8c8c"/></svg>
<div class="a" style="left:3330.8px;top:1304.8px;width:12.0px;height:40.8px;background:#8c8c8c;border-radius:6px;"></div>
<svg class="a" style="left:0;top:0;z-index:50" width="3338" height="1597" viewBox="0 0 3338 1597"><path d="M1095.38 1139.79 L2550.05 764.11 L2550.99 771.72 L2586.30 750.50 L2545.13 749.07 L2548.00 756.17 L1093.62 1133.01Z" fill="#ff0000"/><circle cx="1094.50" cy="1136.40" r="3.50" fill="#ff0000"/><path d="M1111.07 1031.21 L1658.15 1521.61 L1652.40 1526.54 L1689.20 1543.90 L1667.87 1509.25 L1663.62 1515.50 L1115.73 1025.99Z" fill="#ff0000"/><circle cx="1113.40" cy="1028.60" r="3.50" fill="#ff0000"/></svg></body></html>
